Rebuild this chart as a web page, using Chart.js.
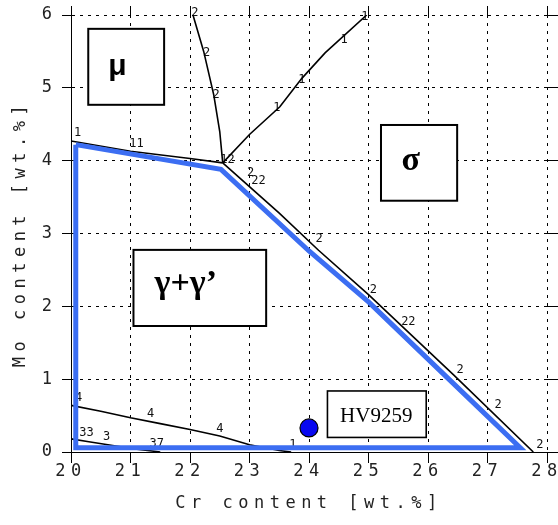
<!DOCTYPE html>
<html>
<head>
<meta charset="utf-8">
<script src="https://cdn.jsdelivr.net/npm/chart.js@4.4.1/dist/chart.umd.min.js"></script>
<style>
  body { margin: 0; background: #fff; }
  canvas { display: block; }
</style>
</head>
<body>
<canvas id="phase" width="558" height="525"></canvas>
<script>
// phase boundaries, [Cr wt.%, Mo wt.%]
const lineA = [[20.0, 4.27], [21.0, 4.13], [22.0, 4.03], [22.55, 3.97]];
const lineB = [[22.55, 3.97], [22.5, 4.4], [22.4, 4.9], [22.23, 5.5], [22.05, 6.0]];
const lineC = [[22.55, 3.97], [23.0, 4.36], [23.51, 4.74], [23.88, 5.13], [24.27, 5.48], [24.97, 6.0]];
const lineD = [[22.55, 3.97], [23.5, 3.28], [24.16, 2.77], [25.0, 2.16], [26.43, 1.06], [27.77, 0.0]];
const lineE = [[20.0, 0.64], [20.5, 0.56], [21.0, 0.47], [21.5, 0.39], [22.0, 0.31], [22.5, 0.22], [23.0, 0.1], [23.5, 0.02], [23.7, 0.0]];
const lineF = [[20.0, 0.18], [20.3, 0.14], [20.7, 0.09], [21.0, 0.05], [21.5, 0.0]];

// blue gamma+gamma' window and the alloy point
const region = [[20.08, 4.22], [22.52, 3.88], [24.0, 2.76], [25.0, 2.06], [26.35, 1.0], [27.55, 0.06], [20.08, 0.06], [20.08, 4.22]];
const alloy = [[24.0, 0.33]];

// small numbers written along the curves: [text, Cr, Mo]
const lineLabels = [
  ['1', 20.11, 4.38], ['11', 21.1, 4.23],
  ['2', 22.08, 6.03], ['2', 22.28, 5.48], ['2', 22.44, 4.9],
  ['12', 22.63, 4.01], ['2', 23.02, 3.83], ['22', 23.15, 3.72],
  ['1', 23.46, 4.72], ['1', 23.88, 5.11], ['1', 24.59, 5.66], ['1', 24.94, 5.97],
  ['2', 24.17, 2.92], ['2', 25.08, 2.22], ['22', 25.67, 1.79], ['2', 26.54, 1.13], ['2', 27.18, 0.65], ['2', 27.88, 0.1],
  ['4', 20.13, 0.74], ['4', 21.34, 0.52], ['4', 22.5, 0.32],
  ['33', 20.26, 0.26], ['3', 20.6, 0.21], ['37', 21.44, 0.11], ['1', 23.73, 0.1]
];

// boxed phase names
const boxText = ['μ', 'σ', 'γ+γ’', 'HV9259'];
const boxCr = [[20.29, 21.565], [25.21, 26.49], [21.05, 23.28], [24.31, 25.97]];
const boxMo = [[4.767, 5.81], [3.45, 4.49], [1.73, 2.775], [0.2, 0.838]];
const boxTextAt = [[20.78, 5.29], [25.71, 3.99], [21.93, 2.3], [25.13, 0.49]];

const xTitle = 'Cr content [wt.%]';
const yTitle = 'Mo content [wt.%]';

const boxFonts = ['bold 30px "Liberation Sans"', 'bold 34px "Liberation Serif"', 'bold 34px "Liberation Serif"', '21px "Liberation Serif"'];
const boxWidths = [2, 2, 2, 1.6];

function pts(a) {
  return a.map(p => ({x: p[0], y: p[1]}));
}

function blackLine(a) {
  return {data: pts(a), showLine: true, borderColor: '#000', borderWidth: 1.6, pointRadius: 0, order: 2};
}

const axisFont = {family: 'DejaVu Sans Mono', size: 17};

const extras = {
  id: 'extras',
  beforeDraw(chart) {
    // the original plot font is very wide
    chart.ctx.letterSpacing = '5.5px';
  },
  beforeDatasetsDraw(chart) {
    const {ctx, scales: {x, y}} = chart;
    ctx.letterSpacing = '0px';
    ctx.save();
    ctx.font = '12px "DejaVu Sans Mono"';
    ctx.fillStyle = '#111';
    ctx.textAlign = 'center';
    ctx.textBaseline = 'middle';
    lineLabels.forEach(l => ctx.fillText(l[0], x.getPixelForValue(l[1]), y.getPixelForValue(l[2])));
    ctx.restore();
  },
  afterDatasetsDraw(chart) {
    const {ctx, scales: {x, y}} = chart;
    ctx.save();
    for (let i = 0; i < boxText.length; i++) {
      const x1 = x.getPixelForValue(boxCr[i][0]), x2 = x.getPixelForValue(boxCr[i][1]);
      const y1 = y.getPixelForValue(boxMo[i][1]), y2 = y.getPixelForValue(boxMo[i][0]);
      ctx.fillStyle = '#fff';
      ctx.fillRect(x1, y1, x2 - x1, y2 - y1);
      ctx.lineWidth = boxWidths[i];
      ctx.strokeStyle = '#000';
      ctx.strokeRect(x1, y1, x2 - x1, y2 - y1);
      ctx.fillStyle = '#000';
      ctx.font = boxFonts[i];
      ctx.textAlign = 'center';
      ctx.textBaseline = 'middle';
      ctx.fillText(boxText[i], x.getPixelForValue(boxTextAt[i][0]), y.getPixelForValue(boxTextAt[i][1]));
    }
    ctx.restore();
  }
};

new Chart(document.getElementById('phase'), {
  type: 'scatter',
  data: {
    datasets: [
      {data: pts(alloy), pointRadius: 9, pointBackgroundColor: '#0808f0', pointBorderColor: '#000', pointBorderWidth: 1.2, order: 0},
      {data: pts(region), showLine: true, borderColor: '#3c6ef2', borderWidth: 5, borderJoinStyle: 'miter', pointRadius: 0, order: 1},
      blackLine(lineA), blackLine(lineB), blackLine(lineC),
      blackLine(lineD), blackLine(lineE), blackLine(lineF)
    ]
  },
  options: {
    responsive: false,
    animation: false,
    layout: {padding: {top: 6, right: 0, bottom: 0, left: 0}},
    plugins: {legend: {display: false}, tooltip: {enabled: false}},
    scales: {
      x: {
        type: 'linear', position: 'bottom', min: 20, max: 28,
        ticks: {stepSize: 1, color: '#222', font: axisFont, padding: -2, maxRotation: 0},
        grid: {color: '#000', lineWidth: 1, tickLength: 11, tickColor: '#000'},
        border: {display: true, color: '#000', width: 1, dash: [3, 5]},
        title: {display: true, text: xTitle, color: '#222', font: axisFont, padding: {top: 0, bottom: 11}},
        afterFit(s) { s.height = 73; }
      },
      y: {
        type: 'linear', position: 'left', min: 0, max: 6,
        ticks: {stepSize: 1, color: '#222', font: axisFont, padding: 4.5},
        grid: {color: '#000', lineWidth: 1, tickLength: 9, tickColor: '#000'},
        border: {display: true, color: '#000', width: 1, dash: [3, 5]},
        title: {display: true, text: yTitle, color: '#222', font: axisFont, padding: {top: 10, bottom: 0}},
        afterFit(s) { s.width = 71; }
      },
      x2: {
        type: 'linear', position: 'top', min: 20, max: 28,
        ticks: {display: false, stepSize: 1},
        grid: {drawOnChartArea: false, tickLength: 9, tickColor: '#000'},
        border: {display: false},
        afterFit(s) { s.height = 9; }
      },
      y2: {
        type: 'linear', position: 'right', min: 0, max: 6,
        ticks: {display: false, stepSize: 1},
        grid: {drawOnChartArea: false, tickLength: 11, tickColor: '#000'},
        border: {display: false},
        afterFit(s) { s.width = 11; }
      }
    }
  },
  plugins: [extras]
});
</script>
</body>
</html>
